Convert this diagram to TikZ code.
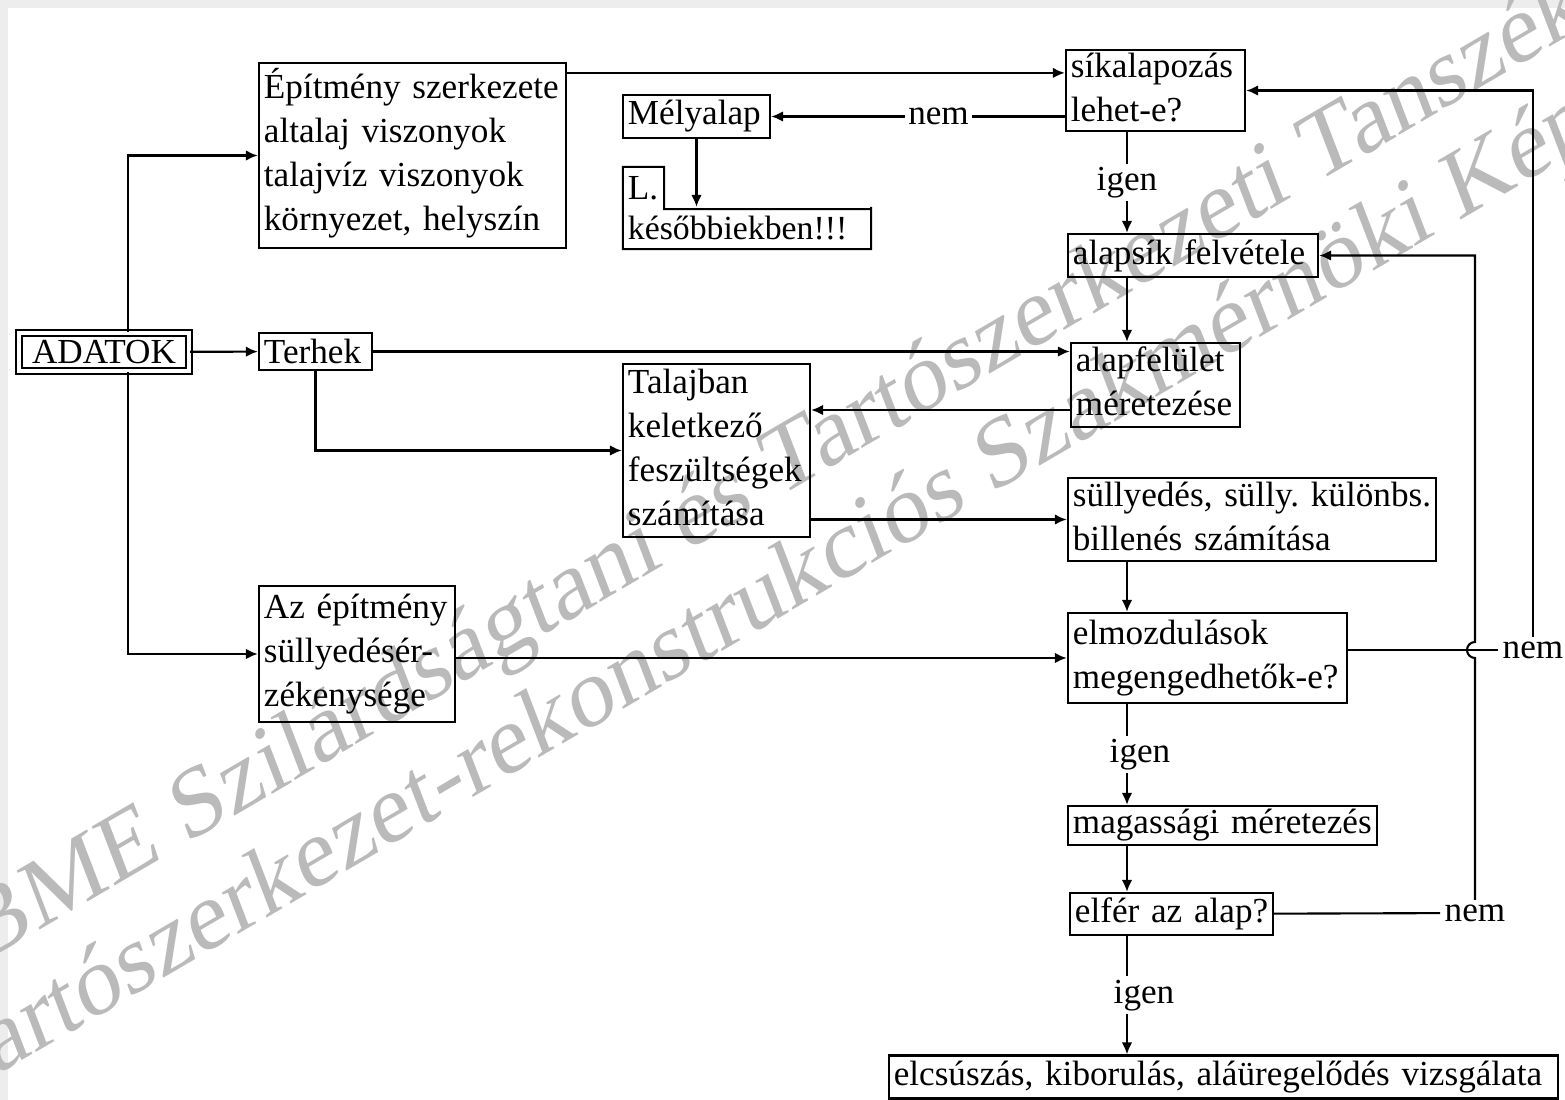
\documentclass[tikz,border=0pt]{standalone}
\usepackage{fontspec}
\setmainfont{Liberation Serif}
\usetikzlibrary{arrows.meta}

\begin{document}
\frenchspacing
\begin{tikzpicture}[
    x=0.01cm, y=-0.01cm,
    >={Latex[length=1.2mm,width=1.05mm]},
    line width=0.6pt,
    font=\fontsize{10}{12.5}\selectfont,
    block/.style={
		rectangle,
		draw=black,
		align=left,
		inner xsep=0.5mm,
		inner ysep=-0.4mm
	},
	answer/.style={
		fill=white,
		inner sep=1pt
	},
	wmark/.style={
		text=black!27,
		font=\fontsize{27.5}{28}\selectfont,
		rotate=21,
		yslant=0.164,
		anchor=base west,
		inner sep=0pt
	}
  ]
  \useasboundingbox (0,0) rectangle (1565,1100);
  \clip (0,0) rectangle (1565,1100);
  \fill[black!7] (0,0) rectangle (1565,8);
  \fill[black!7] (0,0) rectangle (8,1100);

  % watermark behind everything
  \node[wmark] (wm1) at (-20,965) {BME Szilárdságtani és Tartószerkezeti Tanszék};
  \node[wmark] (wm2) at (-50,1103) {Tartószerkezet-rekonstrukciós Szakmérnöki Képzés};

  % We start by placing the blocks
  \node [block, double, double distance=0.35mm, inner ysep=0pt, minimum width=1.70cm, minimum height=0.38cm, align=center] (adatok) at (104,352) {ADATOK};

  \node [block, text width=2.97cm, minimum height=1.85cm] (epitmeny) at (412.5,155.5)
 {%
 \begin{tabular}{@{}l@{}}
  Építmény szerkezete\\
  altalaj viszonyok\\
  talajvíz viszonyok\\
  környezet, helyszín
 \end{tabular}
 };

  \node [block, text width=1.03cm, minimum height=0.37cm] (terhek) at (315.5,351.5) {Terhek};

  \node [block, text width=1.86cm, minimum height=1.36cm] (azepitmeny) at (357,654)
 {%
 \begin{tabular}{@{}l@{}}
  Az építmény\\
  süllyedésér-\\
  zékenysége
 \end{tabular}
 };

  \node [block, text width=1.37cm, minimum height=0.43cm] (melyalap) at (696.5,116.5) {Mélyalap};

  \node [block, draw=none, inner xsep=0.4mm, text width=0.31cm, minimum height=0.40cm] (lref) at (643.5,188) {L.};
  \node [block, draw=none, inner xsep=0.4mm, text width=2.38cm, minimum height=0.40cm, font=\fontsize{9.6}{12}\selectfont] (kesobb) at (747,228) {\mbox{későbbiekben!!!}};

  \node [block, text width=1.69cm, minimum height=0.81cm] (sikalap) at (1155.5,90.5)
 {%
 \begin{tabular}{@{}l@{}}
  síkalapozás\\
  lehet-e?
 \end{tabular}
 };

  \node [block, text width=2.40cm, minimum height=0.43cm] (alapsik) at (1193,255.5) {\mbox{alapsík felvétele}};

  \node [block, text width=1.59cm, minimum height=0.84cm] (alapfelulet) at (1155.5,385)
 {%
 \begin{tabular}{@{}l@{}}
  alapfelület\\
  méretezése
 \end{tabular}
 };

  \node [block, text width=1.77cm, minimum height=1.73cm] (talajban) at (716.5,450.5)
 {%
 \begin{tabular}{@{}l@{}}
  Talajban\\
  keletkező\\
  feszültségek\\
  számítása
 \end{tabular}
 };

  \node [block, text width=3.58cm, minimum height=0.83cm] (sullyedes) at (1252,519.5)
 {%
 \begin{tabular}{@{}l@{}}
  süllyedés, sülly. különbs.\\
  billenés számítása
 \end{tabular}
 };

  \node [block, text width=2.69cm, minimum height=0.90cm] (elmozdulas) at (1207.5,658)
 {%
 \begin{tabular}{@{}l@{}}
  elmozdulások\\
  megengedhetők-e?
 \end{tabular}
 };

  \node [block, text width=2.99cm, minimum height=0.39cm] (magassagi) at (1222.5,825.5) {\mbox{magassági méretezés}};

  \node [block, text width=1.93cm, minimum height=0.42cm] (elfer) at (1171.5,914) {\mbox{elfér az alap?}};

  \node [block, text width=6.59cm, minimum height=0.43cm] (elcsuszas) at (1223.5,1077)
 {\mbox{elcsúszás, kiborulás, aláüregelődés vizsgálata}};

  \node [answer] (nem1) at (1533,650) {nem};
  \node [answer] (nem2) at (1475,913) {nem};

  % outline of the L. box
  \draw (lref.north west) -| (lref.south east) -| (kesobb.north east) |- (kesobb.south west) -- cycle;

  % connectors from the data
  \draw [->] ([xshift=0.24cm]adatok.north) |- (epitmeny.west);
  \draw [->] ([xshift=0.24cm]adatok.south) |- (azepitmeny.west);
  \draw [->] (adatok) -- (terhek);
  \coordinate (e1) at ([yshift=-0.11cm]epitmeny.north east);
  \draw [->] (e1) -- (e1 -| sikalap.west);
  \draw [->] (terhek) -- (terhek -| alapfelulet.west);
  \draw [->] (terhek) |- (talajban);
  \coordinate (a1) at ([yshift=-0.25cm]alapfelulet.west);
  \draw [->] (a1) -- (a1 -| talajban.east);
  \draw [->] (sullyedes.west -| talajban.east) -- (sullyedes);
  \draw [->] (elmozdulas.west -| azepitmeny.east) -- (elmozdulas);
  \draw [->] (melyalap -| sikalap.west) -- node [answer, pos=0.43] {nem} (melyalap);
  \draw [->] (melyalap) -- (melyalap |- kesobb.north);

  % main chain
  \coordinate (spine) at (1127,0);
  \draw [->] (sikalap.south -| spine) -- node [answer] {igen} (alapsik.north -| spine);
  \draw [->] (alapsik.south -| spine) -- (alapfelulet.north -| spine);
  \draw [->] (sullyedes.south -| spine) -- (elmozdulas.north -| spine);
  \draw [->] (elmozdulas.south -| spine) -- node [answer, xshift=0.13cm] {igen} (magassagi.north -| spine);
  \draw [->] (magassagi.south -| spine) -- (elfer.north -| spine);
  \draw [->] (elfer.south -| spine) -- node [answer, xshift=0.17cm] {igen} (elcsuszas.north -| spine);

  % back loops
  \draw (elmozdulas.east |- nem1) -- (nem1);
  \draw [->] (nem1) |- (sikalap.east);
  \draw (elfer) -- (nem2);
  \coordinate (hop) at (nem2 |- nem1);
  \draw [->] (nem2) -- ([yshift=-0.08cm]hop) arc [start angle=270, end angle=90, radius=0.08cm] |- (alapsik.east);

\end{tikzpicture}
\end{document}
